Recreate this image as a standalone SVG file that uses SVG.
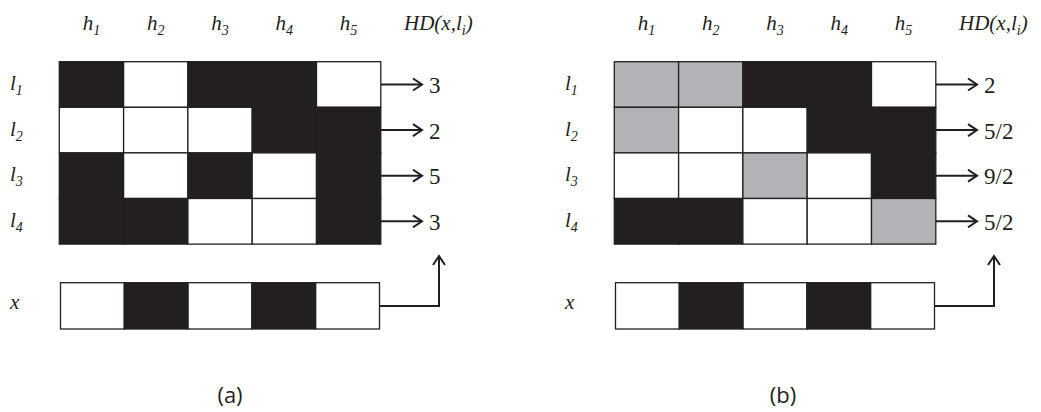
<svg xmlns="http://www.w3.org/2000/svg" width="1041" height="412" viewBox="0 0 1041 412">
<style>
.b{fill:#231f20;stroke:#231f20;stroke-width:1.3}
.w{fill:#fff;stroke:#231f20;stroke-width:1.3}
.g{fill:#b1b3b6;stroke:#231f20;stroke-width:1.3}
.lab{font-family:'Liberation Serif','Times New Roman','DejaVu Serif',serif;font-style:italic;font-size:21px;fill:#231f20}
.sub{font-size:14px}
.num{font-family:'Liberation Serif','Times New Roman','DejaVu Serif',serif;font-size:23px;fill:#231f20}
.cap{font-family:'Open Sans','Liberation Sans',sans-serif;font-size:22px;fill:#231f20}
.con{fill:none;stroke:#231f20;stroke-width:2}
</style>
<defs>
<marker id="ah" markerWidth="12" markerHeight="14" refX="10" refY="7" orient="auto" markerUnits="userSpaceOnUse">
<path d="M1,1 L10,7 L1,13" fill="none" stroke="#231f20" stroke-width="2"/>
</marker>
</defs>

<g id="panel-a">
<g id="labels-a">
<text class="lab" x="91.5" y="30" text-anchor="middle">h<tspan class="sub" dy="5">1</tspan></text>
<text class="lab" x="155.7" y="30" text-anchor="middle">h<tspan class="sub" dy="5">2</tspan></text>
<text class="lab" x="220" y="30" text-anchor="middle">h<tspan class="sub" dy="5">3</tspan></text>
<text class="lab" x="284.3" y="30" text-anchor="middle">h<tspan class="sub" dy="5">4</tspan></text>
<text class="lab" x="348.6" y="30" text-anchor="middle">h<tspan class="sub" dy="5">5</tspan></text>
<text class="lab" x="404" y="30">HD(x,l<tspan class="sub" dy="5">i</tspan><tspan dy="-5">)</tspan></text>
<text class="lab" x="10" y="90">l<tspan class="sub" dy="5">1</tspan></text>
<text class="lab" x="10" y="135.5">l<tspan class="sub" dy="5">2</tspan></text>
<text class="lab" x="10" y="181">l<tspan class="sub" dy="5">3</tspan></text>
<text class="lab" x="10" y="226.5">l<tspan class="sub" dy="5">4</tspan></text>
<text class="lab" x="10" y="309">x</text>
</g>
<g id="grid-a">
<rect class="b" x="59.3" y="61.7" width="64.3" height="45.6"/>
<rect class="w" x="123.6" y="61.7" width="64.3" height="45.6"/>
<rect class="b" x="187.9" y="61.7" width="64.3" height="45.6"/>
<rect class="b" x="252.2" y="61.7" width="64.3" height="45.6"/>
<rect class="w" x="316.5" y="61.7" width="64.3" height="45.6"/>
<rect class="w" x="59.3" y="107.3" width="64.3" height="45.6"/>
<rect class="w" x="123.6" y="107.3" width="64.3" height="45.6"/>
<rect class="w" x="187.9" y="107.3" width="64.3" height="45.6"/>
<rect class="b" x="252.2" y="107.3" width="64.3" height="45.6"/>
<rect class="b" x="316.5" y="107.3" width="64.3" height="45.6"/>
<rect class="b" x="59.3" y="152.9" width="64.3" height="45.6"/>
<rect class="w" x="123.6" y="152.9" width="64.3" height="45.6"/>
<rect class="b" x="187.9" y="152.9" width="64.3" height="45.6"/>
<rect class="w" x="252.2" y="152.9" width="64.3" height="45.6"/>
<rect class="b" x="316.5" y="152.9" width="64.3" height="45.6"/>
<rect class="b" x="59.3" y="198.5" width="64.3" height="45.6"/>
<rect class="b" x="123.6" y="198.5" width="64.3" height="45.6"/>
<rect class="w" x="187.9" y="198.5" width="64.3" height="45.6"/>
<rect class="w" x="252.2" y="198.5" width="64.3" height="45.6"/>
<rect class="b" x="316.5" y="198.5" width="64.3" height="45.6"/>
</g>
<g id="x-a">
<rect class="w" x="60.5" y="282.7" width="63.8" height="46.3"/>
<rect class="b" x="124.3" y="282.7" width="63.8" height="46.3"/>
<rect class="w" x="188.1" y="282.7" width="63.8" height="46.3"/>
<rect class="b" x="251.9" y="282.7" width="63.8" height="46.3"/>
<rect class="w" x="315.7" y="282.7" width="63.8" height="46.3"/>
</g>
<g id="values-a">
<text class="num" x="429" y="93">3</text>
<text class="num" x="429" y="138.5">2</text>
<text class="num" x="429" y="184">5</text>
<text class="num" x="429" y="229.5">3</text>
</g>
<text id="caption-a" class="cap" x="230" y="403" text-anchor="middle">(a)</text>
</g>

<g id="panel-b">
<g id="labels-b">
<text class="lab" x="646.5" y="30" text-anchor="middle">h<tspan class="sub" dy="5">1</tspan></text>
<text class="lab" x="710.7" y="30" text-anchor="middle">h<tspan class="sub" dy="5">2</tspan></text>
<text class="lab" x="775" y="30" text-anchor="middle">h<tspan class="sub" dy="5">3</tspan></text>
<text class="lab" x="839.3" y="30" text-anchor="middle">h<tspan class="sub" dy="5">4</tspan></text>
<text class="lab" x="903.6" y="30" text-anchor="middle">h<tspan class="sub" dy="5">5</tspan></text>
<text class="lab" x="959" y="30">HD(x,l<tspan class="sub" dy="5">i</tspan><tspan dy="-5">)</tspan></text>
<text class="lab" x="565" y="90">l<tspan class="sub" dy="5">1</tspan></text>
<text class="lab" x="565" y="135.5">l<tspan class="sub" dy="5">2</tspan></text>
<text class="lab" x="565" y="181">l<tspan class="sub" dy="5">3</tspan></text>
<text class="lab" x="565" y="226.5">l<tspan class="sub" dy="5">4</tspan></text>
<text class="lab" x="565" y="309">x</text>
</g>
<g id="grid-b">
<rect class="g" x="614.3" y="61.7" width="64.3" height="45.6"/>
<rect class="g" x="678.6" y="61.7" width="64.3" height="45.6"/>
<rect class="b" x="742.9" y="61.7" width="64.3" height="45.6"/>
<rect class="b" x="807.2" y="61.7" width="64.3" height="45.6"/>
<rect class="w" x="871.5" y="61.7" width="64.3" height="45.6"/>
<rect class="g" x="614.3" y="107.3" width="64.3" height="45.6"/>
<rect class="w" x="678.6" y="107.3" width="64.3" height="45.6"/>
<rect class="w" x="742.9" y="107.3" width="64.3" height="45.6"/>
<rect class="b" x="807.2" y="107.3" width="64.3" height="45.6"/>
<rect class="b" x="871.5" y="107.3" width="64.3" height="45.6"/>
<rect class="w" x="614.3" y="152.9" width="64.3" height="45.6"/>
<rect class="w" x="678.6" y="152.9" width="64.3" height="45.6"/>
<rect class="g" x="742.9" y="152.9" width="64.3" height="45.6"/>
<rect class="w" x="807.2" y="152.9" width="64.3" height="45.6"/>
<rect class="b" x="871.5" y="152.9" width="64.3" height="45.6"/>
<rect class="b" x="614.3" y="198.5" width="64.3" height="45.6"/>
<rect class="b" x="678.6" y="198.5" width="64.3" height="45.6"/>
<rect class="w" x="742.9" y="198.5" width="64.3" height="45.6"/>
<rect class="w" x="807.2" y="198.5" width="64.3" height="45.6"/>
<rect class="g" x="871.5" y="198.5" width="64.3" height="45.6"/>
</g>
<g id="x-b">
<rect class="w" x="615.5" y="282.7" width="63.8" height="46.3"/>
<rect class="b" x="679.3" y="282.7" width="63.8" height="46.3"/>
<rect class="w" x="743.1" y="282.7" width="63.8" height="46.3"/>
<rect class="b" x="806.9" y="282.7" width="63.8" height="46.3"/>
<rect class="w" x="870.7" y="282.7" width="63.8" height="46.3"/>
</g>
<g id="values-b">
<text class="num" x="984" y="93">2</text>
<text class="num" x="984" y="138.5">5/2</text>
<text class="num" x="984" y="184">9/2</text>
<text class="num" x="984" y="229.5">5/2</text>
</g>
<text id="caption-b" class="cap" x="783" y="403" text-anchor="middle">(b)</text>
</g>

<g id="connectors">
<line class="con" x1="381" y1="84.5" x2="422" y2="84.5" marker-end="url(#ah)"/>
<line class="con" x1="381" y1="130.1" x2="422" y2="130.1" marker-end="url(#ah)"/>
<line class="con" x1="381" y1="175.7" x2="422" y2="175.7" marker-end="url(#ah)"/>
<line class="con" x1="381" y1="221.3" x2="422" y2="221.3" marker-end="url(#ah)"/>
<polyline class="con" points="379.5,306 439,306 439,256" marker-end="url(#ah)"/>
<line class="con" x1="936" y1="84.5" x2="977" y2="84.5" marker-end="url(#ah)"/>
<line class="con" x1="936" y1="130.1" x2="977" y2="130.1" marker-end="url(#ah)"/>
<line class="con" x1="936" y1="175.7" x2="977" y2="175.7" marker-end="url(#ah)"/>
<line class="con" x1="936" y1="221.3" x2="977" y2="221.3" marker-end="url(#ah)"/>
<polyline class="con" points="934.5,306 994,306 994,256" marker-end="url(#ah)"/>
</g>
</svg>
